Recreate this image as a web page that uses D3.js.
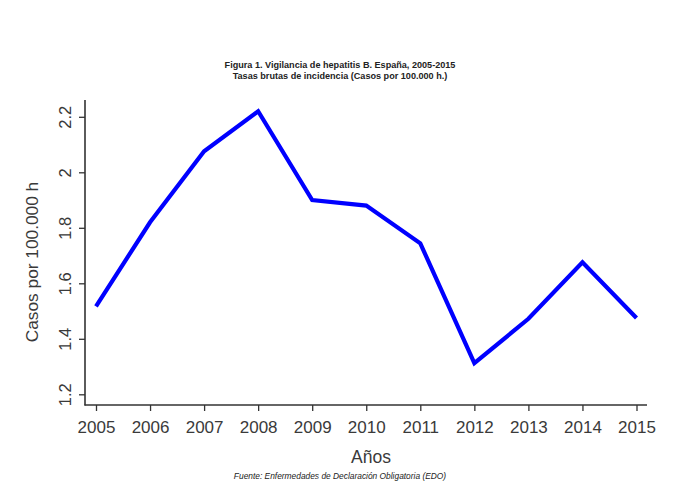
<!DOCTYPE html>
<html>
<head>
<meta charset="utf-8">
<script src="https://cdn.jsdelivr.net/npm/d3@7"></script>
<style>
  body { margin: 0; background: #fff; }
  svg { display: block; font-family: "Liberation Sans", Arial, sans-serif; }
</style>
</head>
<body>
<div id="chart"></div>
<script>
const years = [2005, 2006, 2007, 2008, 2009, 2010, 2011, 2012, 2013, 2014, 2015];
const rates = [1.517, 1.82, 2.076, 2.22, 1.90, 1.88, 1.744, 1.312, 1.472, 1.676, 1.475];
const yTicks = [1.2, 1.4, 1.6, 1.8, 2, 2.2];
const titleLines = [
    "Figura 1. Vigilancia de hepatitis B. España, 2005-2015",
    "Tasas brutas de incidencia (Casos por 100.000 h.)"
];

const width = 688, height = 483;
const svg = d3.select("#chart").append("svg").attr("width", width).attr("height", height);

const x = d3.scaleLinear().domain([2005, 2015]).range([96, 636.5]);
const y = d3.scaleLinear().domain([1.2, 2.2]).range([394.3, 116.8]);

const axisColor = "#333";
const textColor = "#3a3a3a";

// title
svg.selectAll(".title").data(titleLines).enter().append("text")
    .attr("class", "title")
    .attr("x", 340).attr("y", (d, i) => 68 + i * 10.5)
    .attr("text-anchor", "middle")
    .attr("font-size", "9.1px").attr("font-weight", "bold").attr("fill", "#222")
    .text(d => d);

// y axis
const yAxis = svg.append("g").attr("transform", "translate(85,0)")
    .call(d3.axisLeft(y).tickValues(yTicks).tickSize(6).tickSizeOuter(0).tickFormat(d3.format("")));
yAxis.select(".domain").remove();
yAxis.append("line").attr("x1", 0).attr("x2", 0).attr("y1", 100).attr("y2", 405.5)
    .attr("stroke", axisColor).attr("stroke-width", 1.6);
yAxis.selectAll(".tick line").attr("stroke", axisColor).attr("stroke-width", 1.3);
yAxis.selectAll(".tick text")
    .attr("x", 0).attr("y", 0).attr("dy", null)
    .attr("transform", "translate(-14,0) rotate(-90)")
    .attr("text-anchor", "middle")
    .attr("font-size", "16.5px").attr("fill", textColor)
    .attr("font-family", "'Liberation Sans', Arial, sans-serif");

// x axis
const xAxis = svg.append("g").attr("transform", "translate(0,405)")
    .call(d3.axisBottom(x).tickValues(years).tickSize(6).tickSizeOuter(0).tickFormat(d3.format("d")));
xAxis.select(".domain").remove();
xAxis.append("line").attr("x1", 84.5).attr("x2", 647).attr("y1", 0).attr("y2", 0)
    .attr("stroke", axisColor).attr("stroke-width", 1.6);
xAxis.selectAll(".tick line").attr("stroke", axisColor).attr("stroke-width", 1.3);
xAxis.selectAll(".tick text")
    .attr("y", 28).attr("dy", null)
    .attr("font-size", "17px").attr("fill", textColor)
    .attr("font-family", "'Liberation Sans', Arial, sans-serif");

// line
const line = d3.line().x((d, i) => x(years[i])).y(d => y(d));
svg.append("path").datum(rates)
    .attr("d", line)
    .attr("fill", "none").attr("stroke", "#0000ff")
    .attr("stroke-width", 4.2).attr("stroke-linejoin", "miter");

// axis titles
svg.append("text")
    .attr("transform", "translate(38,262) rotate(-90)")
    .attr("text-anchor", "middle")
    .attr("font-size", "17.3px").attr("fill", textColor)
    .text("Casos por 100.000 h");

svg.append("text")
    .attr("x", 371).attr("y", 463)
    .attr("text-anchor", "middle")
    .attr("font-size", "17.5px").attr("fill", textColor)
    .text("Años");

// source
svg.append("text")
    .attr("x", 340).attr("y", 479)
    .attr("text-anchor", "middle")
    .attr("font-size", "8.4px").attr("font-style", "italic").attr("fill", "#222")
    .text("Fuente: Enfermedades de Declaración Obligatoria (EDO)");
</script>
</body>
</html>
